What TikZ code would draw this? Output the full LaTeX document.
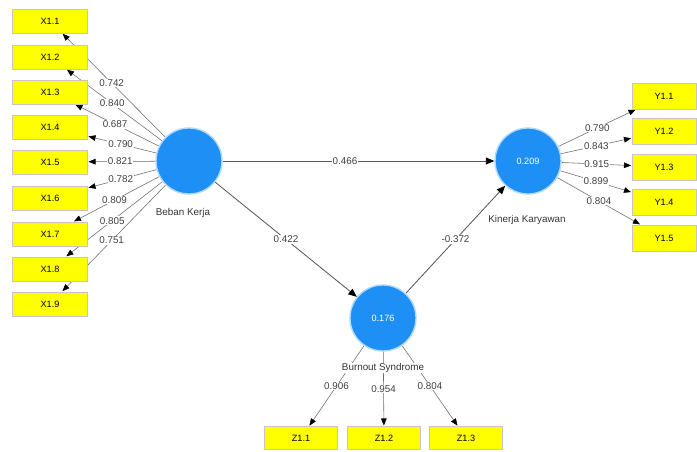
\documentclass[tikz,border=0pt]{standalone}
\usepackage{fontspec}
\setmainfont{Liberation Sans}
\usetikzlibrary{arrows.meta,backgrounds}

\definecolor{plsblue}{RGB}{30,144,245}
\definecolor{plsyellow}{RGB}{255,255,0}

\tikzset{
    latent/.style={circle, fill=plsblue, draw=plsblue!35, line width=1pt, minimum size=1.65cm, inner sep=0pt, text=white, font=\fontsize{6.5}{7}\selectfont},
    indicator/.style={rectangle, fill=plsyellow, draw=gray!45, minimum width=1.875cm, minimum height=0.6cm, inner sep=0pt, font=\fontsize{6.5}{7}\selectfont},
    loadline/.style={draw=gray!85!black, -{Triangle[length=5pt,width=4pt,color=black]}, shorten >=0.5pt},
    pathline/.style={draw=black!65, semithick, -{Triangle[length=6pt,width=5pt,color=black]}},
    coef/.style={font=\fontsize{7}{8}\selectfont, fill=white, inner sep=0.6pt, text=black!75},
    caption/.style={font=\fontsize{7}{8}\selectfont, text=black!80, inner sep=0.5pt}
}

\begin{document}
\begin{tikzpicture}[x=0.025cm, y=-0.025cm]
        \useasboundingbox (0,0) rectangle (697,452);

        % latent variables
        \node[latent] (bk) at (189,161) {};
        \node[latent] (kk) at (528,161) {0.209};
        \node[latent] (bo) at (383,318) {0.176};

        \node[caption] (bklabel) at (183,213) {Beban Kerja};
        \node[caption] (kklabel) at (527,220) {Kinerja Karyawan};
        \node[caption, fill=white] (bolabel) at (383,368) {Burnout Syndrome};

        % indicators
        \foreach \i/\yy in {1/21,2/57,3/92,4/127,5/162,6/198,7/234,8/269,9/304}
        \node[indicator] (x\i) at (50,\yy) {X1.\i};

        \foreach \i/\yy in {1/96,2/131,3/167,4/202,5/238}
        \node[indicator, minimum width=1.6cm, minimum height=0.65cm] (y\i) at (664,\yy) {Y1.\i};

        \foreach \i/\xx in {1/301,2/384,3/466}
        \node[indicator, minimum width=1.825cm, minimum height=0.575cm] (z\i) at (\xx,438) {Z1.\i};

        \begin{pgfonlayer}{background}
        % outer loadings
        \foreach \i/\val in {1/0.742,2/0.840,3/0.687,4/0.790,5/0.821,6/0.782,7/0.809,8/0.805,9/0.751}
        \draw[loadline] (bk) -- (x\i) node[coef, pos=0.52]{\val};

        \foreach \i/\val in {1/0.790,2/0.843,3/0.915,4/0.899,5/0.804}
        \draw[loadline] (kk) -- (y\i) node[coef, pos=0.5]{\val};

        \foreach \i/\val in {1/0.906,2/0.954,3/0.804}
        \draw[loadline] (bo) -- (z\i) node[coef, pos=0.5]{\val};

        % path coefficients
        \draw[pathline] (bk) -- (kk) node[coef, pos=0.45]{0.466};
        \draw[pathline] (bk) -- (bo) node[coef, pos=0.5]{0.422};
        \draw[pathline] (bo) -- (kk) node[coef, pos=0.5]{-0.372};
        \end{pgfonlayer}
\end{tikzpicture}
\end{document}
